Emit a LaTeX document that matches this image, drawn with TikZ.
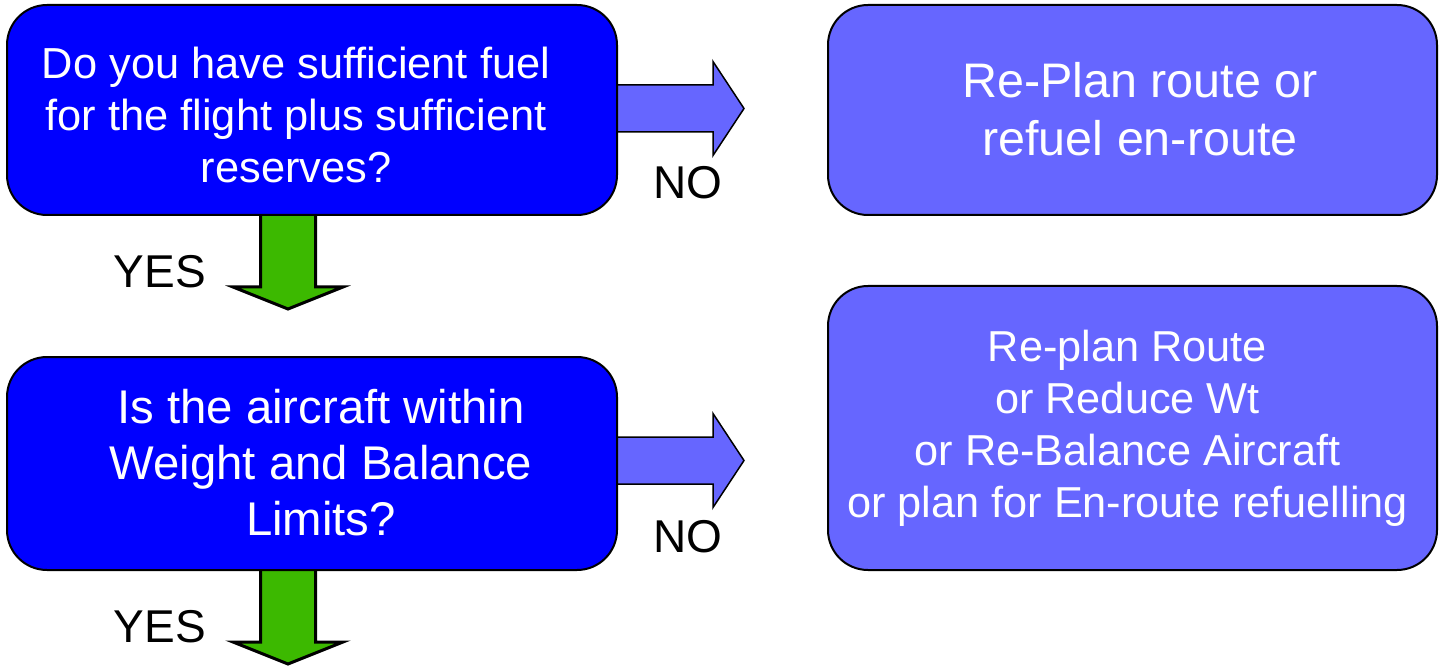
\documentclass[tikz,border=0pt]{standalone}
\usepackage{fontspec}
\setmainfont{Liberation Sans}
\usetikzlibrary{calc}
\definecolor{dblue}{RGB}{0,0,255}
\definecolor{lblue}{RGB}{102,102,255}
\definecolor{agreen}{RGB}{60,185,0}
\pgfdeclarelayer{bg}
\pgfsetlayers{bg,main}
\begin{document}
\begin{tikzpicture}[x=1pt,y=-1pt,
  box/.style={draw=black, line width=2pt, rounded corners=40pt, inner sep=0pt, minimum width=610pt},
  qbox/.style={box, fill=dblue},
  abox/.style={box, fill=lblue},
  wtext/.style={text=white, align=center, inner sep=0pt},
  lbl/.style={font=\fontsize{46}{52}\selectfont, inner sep=0pt},
  rightarrowpic/.pic={\draw[line width=1.5pt, fill=lblue, line join=miter] (-4,-23.5) -- (95,-23.5) -- (95,-47) -- (126,0) -- (95,47) -- (95,23.5) -- (-4,23.5) -- cycle;},
  downarrowpic/.pic={\draw[line width=3pt, fill=agreen, line join=miter] (-27.5,-4) -- (27.5,-4) -- (27.5,71) -- (55,71) -- (0,93) -- (-55,71) -- (-27.5,71) -- cycle;}
]
\useasboundingbox (0,0) rectangle (1441,671);
% boxes
\node[qbox, minimum height=210pt] (q1) at (312,110) {};
\node[qbox, minimum height=213pt] (q2) at (312,463.5) {};
\node[abox, minimum width=609pt, minimum height=210pt] (r1) at (1132.5,110) {};
\node[abox, minimum width=609pt, minimum height=284pt] (r2) at (1132.5,428) {};
% texts
\node[wtext, font=\fontsize{43.4}{52}\selectfont] (q1t) at (296,115) {Do you have sufficient fuel\\for the flight plus sufficient\\reserves?};
\node[wtext, font=\fontsize{47.3}{56}\selectfont] (q2t) at (321,463) {Is the aircraft within\\Weight and Balance\\Limits?};
\node[wtext, font=\fontsize{48.5}{58}\selectfont] (r1t) at (1140,109) {Re-Plan route or\\refuel en-route};
\node[wtext, font=\fontsize{43.3}{52}\selectfont] (r2t) at (1127.5,428) {Re-plan Route\\or Reduce Wt\\or Re-Balance Aircraft\\or plan for En-route refuelling};
% arrows
\begin{pgfonlayer}{bg}
\pic at ($(q1.east)+(0,-1.5)$) {rightarrowpic};
\pic at ($(q2.east)+(0,-3)$) {rightarrowpic};
\pic at ($(q1.south)+(-24,0)$) {downarrowpic};
\pic at ($(q2.south)+(-24,0)$) {downarrowpic};
\end{pgfonlayer}
% labels
\node[lbl] (no1) at (688,183) {NO};
\node[lbl] (no2) at (688,537) {NO};
\node[lbl] (yes1) at (160,272) {YES};
\node[lbl] (yes2) at (160,627) {YES};
\end{tikzpicture}
\end{document}
